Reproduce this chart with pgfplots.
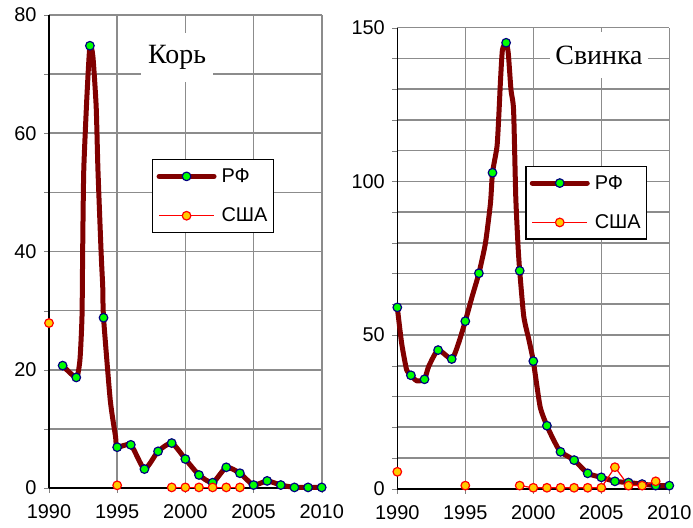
\documentclass[border=0pt]{standalone}
\usepackage{fontspec}
\setmainfont{Liberation Sans}
\newfontfamily\titlefont{Liberation Serif}
\usepackage{pgfplots}
\pgfplotsset{compat=1.18}

\definecolor{rfred}{HTML}{800000}
\definecolor{rfgreen}{HTML}{00FF00}
\definecolor{rfnavy}{HTML}{000080}
\definecolor{usagold}{HTML}{FFCC00}
\definecolor{gridgray}{HTML}{8C8C8C}

\pgfplotsset{
  panel/.style={
    scale only axis,
    clip=false,
    xmin=1990, xmax=2010,
    ymin=0,
    axis x line*=bottom, axis y line*=left,
    axis line style={black, line width=1.6bp, -},
    xtick={1990,1995,...,2010},
    grid=both,
    major grid style={color=gridgray, line width=1.6bp},
    minor grid style={color=gridgray, line width=1.6bp},
    tick align=outside,
    major tick length=5bp, minor tick length=5bp,
    tick label style={font=\fontsize{20}{24}\selectfont},
    /pgf/number format/assume math mode=true,
    /pgf/number format/1000 sep={},
    xticklabel style={yshift=-8bp},
    yticklabel style={xshift=-4bp},
    unbounded coords=jump,
    legend style={draw=black, line width=1.5bp, fill=white,
      font=\fontsize{20}{24}\selectfont, anchor=north west,
      inner xsep=4bp, inner ysep=7bp, row sep=20bp, column sep=3bp,
      nodes={inner sep=2bp}, cells={anchor=west}},
  },
  legend image code/.code={
    \draw[mark repeat=2, mark phase=2, #1]
      plot coordinates {(0bp,0bp) (27.5bp,0bp) (55bp,0bp)};},
  rfline/.style={rfred, line width=5bp, line cap=round, line join=round, smooth, tension=0.35},
  rfmark/.style={mark=*, mark size=4.3bp, mark options={fill=rfgreen, draw=rfnavy, line width=1.2bp, solid}},
  usa/.style={red, line width=1.2bp, mark=*, mark size=4.3bp, mark options={fill=usagold, draw=red, line width=1.2bp, solid}},
}

\begin{document}
\begin{tikzpicture}

% ---- Корь ----
\begin{axis}[panel,
  at={(49bp,40bp)}, anchor=south west,
  width=272.7bp, height=473bp,
  ymax=80,
  ytick={0,20,...,80}, minor ytick={10,30,50,70},
  legend style={at={(0.377,0.6956)}},
]
\addplot[rfline, forget plot] coordinates {
  (1991,20.7) (1992,18.7) (1992.27,21.7) (1992.42,29.0) (1992.47,40.3)
  (1992.55,53.8) (1992.78,66.2) (1993,74.8) (1993.22,73.0) (1993.46,64.5)
  (1993.59,53.8) (1993.83,39.4) (1993.94,34.1) (1994,28.8) (1994.49,14.9)
  (1994.88,8.7) (1995,6.9) (1996,7.3) (1997,3.2) (1998,6.2) (1999,7.6)
  (2000,4.9) (2001,2.2) (2002,0.9) (2003,3.5) (2004,2.5) (2005,0.5)
  (2006,1.2) (2007,0.5) (2008,0.1) (2009,0.1) (2010,0.1)
};
\addplot[rfmark, only marks, forget plot] coordinates {
  (1991,20.7) (1992,18.7) (1993,74.8) (1994,28.8) (1995,6.9) (1996,7.3)
  (1997,3.2) (1998,6.2) (1999,7.6) (2000,4.9) (2001,2.2) (2002,0.9)
  (2003,3.5) (2004,2.5) (2005,0.5) (2006,1.2) (2007,0.5) (2008,0.1)
  (2009,0.1) (2010,0.1)
};
\addplot[usa, forget plot] coordinates {
  (1990,27.9) (1991,nan) (1995,0.45) (1996,nan)
  (1999,0.1) (2000,0.1) (2001,0.1) (2002,0.1) (2003,0.1) (2004,0.1)
};
\addlegendimage{rfline, rfmark}
\addlegendentry{РФ}
\addlegendimage{usa}
\addlegendentry{США}
\node[fill=white, minimum width=72bp, minimum height=49bp, inner sep=0pt,
  font=\titlefont\fontsize{28}{32}\selectfont] at (axis cs:1999.39,72.84) {Корь};
\end{axis}

% ---- Свинка ----
\begin{axis}[panel,
  at={(397.3bp,39.3bp)}, anchor=south west,
  width=272bp, height=461bp,
  ymax=150,
  ytick={0,50,100,150},
  minor ytick={10,20,30,40,60,70,80,90,110,120,130,140},
  every mark/.append style={xscale=1.2},
  legend style={at={(0.4695,0.7007)}},
]
\addplot[rfline, forget plot] coordinates {
  (1990,59.0) (1990.32,47.3) (1990.69,38.6) (1991,36.9) (1991.43,35.1)
  (1992,35.6) (1992.3,39.7) (1993,45.1) (1994,42.2) (1994.5,47.3)
  (1995,54.5) (1995.5,62.5) (1996,70.1) (1996.48,79.9) (1996.85,92.9)
  (1997,102.8) (1997.33,111.3) (1997.46,121) (1997.59,133) (1997.73,142.8)
  (1998,145.1) (1998.16,141.7) (1998.36,129.7) (1998.55,123.2) (1998.71,95)
  (1998.88,78.8) (1999,70.9) (1999.3,56) (1999.68,48.4) (2000,41.5)
  (2000.5,26.7) (2001,20.5) (2001.5,15.8) (2002,12.0) (2003,9.3)
  (2004,5.0) (2005,3.7) (2006,2.4) (2007,2.0) (2008,1.5) (2009,1.0) (2010,1.0)
};
\addplot[rfmark, only marks, forget plot] coordinates {
  (1990,59.0) (1991,36.9) (1992,35.6) (1993,45.1) (1994,42.2) (1995,54.5)
  (1996,70.1) (1997,102.8) (1998,145.1) (1999,70.9) (2000,41.5) (2001,20.5)
  (2002,12.0) (2003,9.3) (2004,5.0) (2005,3.7) (2006,2.4) (2007,2.0)
  (2008,1.5) (2009,1.0) (2010,1.0)
};
\addplot[usa, forget plot] coordinates {
  (1990,5.5) (1991,nan) (1995,1.0) (1996,nan)
  (1999,1.0) (2000,0.3) (2001,0.3) (2002,0.3) (2003,0.3) (2004,0.3)
  (2005,0.3) (2006,7.0) (2007,1.0) (2008,1.0) (2009,2.4)
};
\addlegendimage{rfline, rfmark}
\addlegendentry{РФ}
\addlegendimage{usa}
\addlegendentry{США}
\node[fill=white, minimum width=98bp, minimum height=46bp, inner sep=0pt,
  font=\titlefont\fontsize{28}{32}\selectfont] at (axis cs:2004.83,141.1) {Свинка};
\end{axis}

\pgfresetboundingbox
\path (0bp,0bp) rectangle (693bp,528bp);
\end{tikzpicture}
\end{document}
